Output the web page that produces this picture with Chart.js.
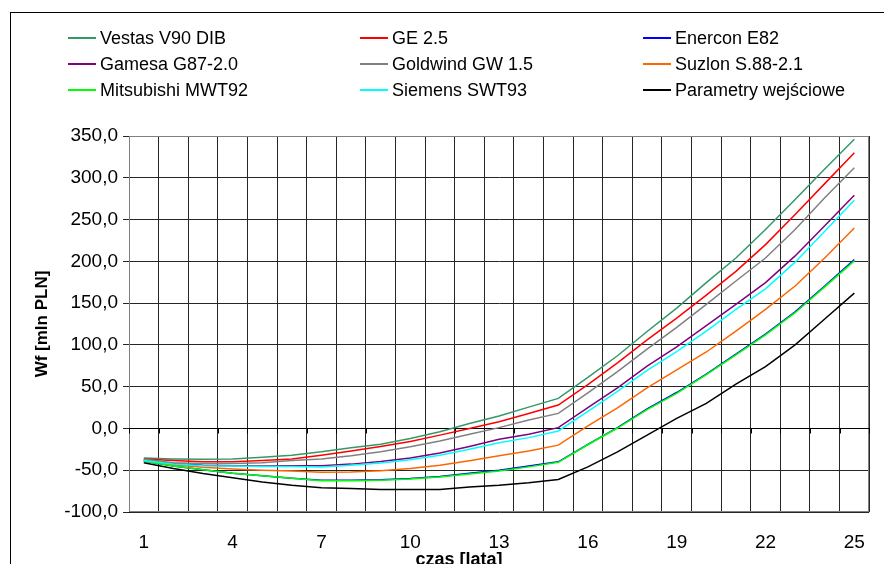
<!DOCTYPE html>
<html>
<head>
<meta charset="utf-8">
<script src="https://cdn.jsdelivr.net/npm/chart.js@4/dist/chart.umd.min.js"></script>
<style>
  html, body { margin: 0; padding: 0; background: #fff; }
  #wrap { position: relative; width: 884px; height: 564px; overflow: hidden; font-family: "Liberation Sans", Arial, sans-serif; }
  #frame { position: absolute; left: 10px; top: 12px; width: 900px; height: 600px; border-left: 1px solid #000; border-top: 1px solid #000; }
  #chart { position: absolute; left: 0; top: 0; }
  .lg { position: absolute; display: flex; align-items: center; font-size: 18px; color: #000; white-space: nowrap; }
  .lg span.key { display: inline-block; width: 28px; height: 0; border-top: 2px solid; margin-right: 4px; }
</style>
</head>
<body>
<div id="wrap">
  <div id="frame"></div>
  <canvas id="chart" width="884" height="564"></canvas>
  <div id="legend"></div>
</div>
<script>
// Years of operation
const years = ['1','2','3','4','5','6','7','8','9','10','11','12','13','14','15','16','17','18','19','20','21','22','23','24','25'];
// Labelled years on the time axis
const shownYears = ['1','4','7','10','13','16','19','22','25'];

// Wf [mln PLN] per turbine model
const vestasV90 = [-35.5,-36.5,-37,-36.5,-34.5,-32,-28,-23,-19,-12,-4,6,15,25.5,36,61,87,116,144,174.5,204,238,274,310.5,346];
const ge25 = [-36.5,-38.5,-40,-40,-38.5,-36.5,-32,-27,-21.5,-15.5,-8,0,8,18,28,52.5,78.5,106,132,159.5,188,220,256,293,330];
const enerconE82 = [-39,-45,-49.5,-53.5,-56.5,-59.5,-62,-62,-61.5,-60,-57.5,-53.5,-50,-45,-40,-19,1,23.5,43,65,89,113,139.5,170.5,202];
const gamesaG87 = [-38,-42,-44,-44.5,-45,-44.5,-44.5,-42.7,-39.5,-35.5,-29.5,-21.5,-13,-7,1,25,48.5,74.5,97.5,123,148.5,174.5,206.5,242.5,279];
const goldwindGW15 = [-37,-41,-42,-42,-41,-38.5,-36.5,-32.7,-28,-22,-15,-7,1,10,18,42.5,68,95,121,148.5,176.5,204,238,276,312];
const suzlonS88 = [-39,-43.5,-46.5,-48.5,-50,-51,-52.5,-52,-50.7,-48,-44,-38.7,-32.7,-27,-20,3,24.5,48.5,70,91.5,116.5,142.5,170.5,204,240];
const mitsubishiMWT92 = [-39,-45,-49.5,-53.5,-56.5,-59.5,-62.5,-62.5,-62,-60.5,-58,-54.5,-51,-46,-40.5,-19.5,0.5,22.5,42,64.5,88,112,138.5,169.5,200.5];
const siemensSWT93 = [-38.5,-42.5,-44.5,-45,-45.5,-45.5,-46,-44,-41.5,-37.5,-32,-25,-17,-11,-3,20.5,44.5,69.5,92,116.5,142.5,167,199,236,273];
const inputParams = [-41,-48,-54,-59,-64,-68,-71,-72,-73,-73,-73,-70,-68,-65,-61,-46,-28,-8,12,30,53,74,100,131,162];

const seriesNames = ['Vestas V90 DIB','GE 2.5','Enercon E82','Gamesa G87-2.0','Goldwind GW 1.5','Suzlon S.88-2.1','Mitsubishi MWT92','Siemens SWT93','Parametry wejściowe'];
const seriesColors = ['#339966','#ff0000','#0000ff','#800080','#808080','#ff6600','#00ff00','#00ffff','#000000'];
const seriesData = [vestasV90, ge25, enerconE82, gamesaG87, goldwindGW15, suzlonS88, mitsubishiMWT92, siemensSWT93, inputParams];

const FONT = '"Liberation Sans", Arial, sans-serif';

const datasets = seriesData.map((d, i) => ({
  label: seriesNames[i],
  data: d,
  borderColor: seriesColors[i],
  backgroundColor: seriesColors[i],
  borderWidth: 1.5,
  pointRadius: 0,
  tension: 0,
  fill: false,
  order: seriesData.length - i   // later series drawn on top
}));

// Plot frame, zero-line tick marks and the time axis title
const decorations = {
  id: 'decorations',
  beforeDatasetsDraw(chart) {
    const { ctx, chartArea: a, scales: { x, y } } = chart;
    ctx.save();
    ctx.strokeStyle = '#808080';
    ctx.lineWidth = 1;
    ctx.strokeRect(Math.round(a.left) + 0.5, Math.round(a.top) + 0.5, Math.round(a.right - a.left) - 1, Math.round(a.bottom - a.top) - 1);
    // axis line crossing at zero with category tick marks
    const y0 = Math.round(y.getPixelForValue(0)) + 0.5;
    ctx.strokeStyle = '#000';
    ctx.beginPath();
    ctx.moveTo(a.left, y0); ctx.lineTo(a.right, y0);
    const n = years.length;
    for (let i = 0; i <= n; i++) {
      const px = Math.round(a.left + i * (a.right - a.left) / n) + 0.5;
      ctx.moveTo(px, y0); ctx.lineTo(px, y0 + 5);
    }
    ctx.stroke();
    ctx.restore();
  },
  afterDraw(chart) {
    const { ctx } = chart;
    ctx.save();
    ctx.fillStyle = '#000';
    ctx.font = 'bold 18px ' + FONT;
    ctx.textAlign = 'center';
    ctx.textBaseline = 'alphabetic';
    ctx.fillText('czas [lata]', 459, 565);
    ctx.restore();
  }
};

const chart = new Chart(document.getElementById('chart'), {
  type: 'line',
  data: { labels: years, datasets },
  plugins: [decorations],
  options: {
    responsive: false,
    animation: false,
    layout: { padding: { left: 10, top: 136, right: 5, bottom: 0 } },
    plugins: { legend: { display: false }, tooltip: { enabled: false } },
    scales: {
      x: {
        type: 'category',
        offset: true,
        grid: { offset: true, color: '#262626', lineWidth: 1, drawTicks: false },
        border: { display: false },
        ticks: {
          autoSkip: false, maxRotation: 0, padding: 19, color: '#000',
          font: { family: FONT, size: 19 },
          callback: function (v, i) { const l = this.getLabelForValue(v); return shownYears.includes(l) ? l : ''; }
        },
        afterFit(s) { s.height = 52; }
      },
      y: {
        min: -100, max: 350,
        grid: { color: '#262626', lineWidth: 1, tickLength: 6 },
        border: { color: '#000' },
        ticks: {
          stepSize: 50, padding: 5, color: '#000',
          font: { family: FONT, size: 19 },
          callback: v => v.toFixed(1).replace('.', ',')
        },
        title: { display: true, text: 'Wf [mln PLN]', color: '#000', font: { family: FONT, size: 17, weight: 'bold' }, padding: { top: 22 } },
        afterFit(s) { s.width = 119; }
      }
    }
  }
});

// Legend: three columns, series in their original order
const legendEl = document.getElementById('legend');
const colX = [68, 360, 643];
const rowY = [38, 64, 90];
seriesNames.forEach((name, i) => {
  const item = document.createElement('div');
  item.className = 'lg';
  item.style.left = colX[i % 3] + 'px';
  item.style.top = (rowY[Math.floor(i / 3)] - 11) + 'px';
  item.style.height = '22px';
  const key = document.createElement('span');
  key.className = 'key';
  key.style.borderTopColor = seriesColors[i];
  item.appendChild(key);
  item.appendChild(document.createTextNode(name));
  legendEl.appendChild(item);
});
</script>
</body>
</html>
